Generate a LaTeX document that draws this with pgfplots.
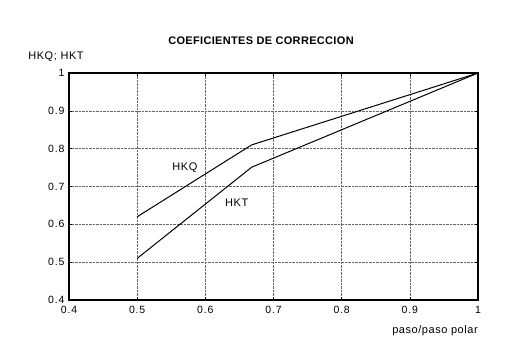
\documentclass[border=0pt]{standalone}
\usepackage{fontspec}
\setmainfont{Liberation Sans}
\usepackage{pgfplots}
\pgfplotsset{compat=1.18}
\begin{document}
\begin{tikzpicture}[x=1pt,y=1pt]
\useasboundingbox (0,0) rectangle (525,354);
\begin{axis}[
  at={(69pt,54pt)}, anchor=south west,
  scale only axis, width=409pt, height=227pt,
  xmin=0.4, xmax=1, ymin=0.4, ymax=1,
  xtick={0.4,0.5,...,1.0}, ytick={0.4,0.5,...,1.0},
  xticklabels={0.4,0.5,0.6,0.7,0.8,0.9,1},
  yticklabels={0.4,0.5,0.6,0.7,0.8,0.9,1},
  grid=major,
  major grid style={black!60, densely dotted, line width=0.5pt},
  axis line style={black, line width=1.1pt},
  tick style={black, line width=0.6pt},
  major tick length=3pt,
  tick align=inside,
  tick label style={font=\addfontfeature{LetterSpace=8}\fontsize{10.5}{12}\selectfont},
  xticklabel style={yshift=-3pt},
  yticklabel style={xshift=-1pt},
  /pgf/number format/assume math mode=true,
  clip=false,
]
\addplot[black, line width=1pt] coordinates {(0.5,0.62) (0.668,0.81) (1,1)};
\addplot[black, line width=1pt] coordinates {(0.5,0.51) (0.668,0.751) (1,1)};
\node[font=\addfontfeature{LetterSpace=5}\fontsize{11}{12}\selectfont] at (axis cs:0.57,0.749) {HKQ};
\node[font=\addfontfeature{LetterSpace=5}\fontsize{11}{12}\selectfont] at (axis cs:0.646,0.656) {HKT};
\end{axis}
\node[font=\bfseries\addfontfeature{LetterSpace=3}\fontsize{11}{12}\selectfont] at (261,313) {COEFICIENTES DE CORRECCION};
\node[font=\addfontfeature{LetterSpace=5}\fontsize{11}{12}\selectfont] at (56,297) {HKQ; HKT};
\node[font=\addfontfeature{LetterSpace=5}\fontsize{11}{12}\selectfont] at (435,23) {paso/paso polar};
\end{tikzpicture}
\end{document}
